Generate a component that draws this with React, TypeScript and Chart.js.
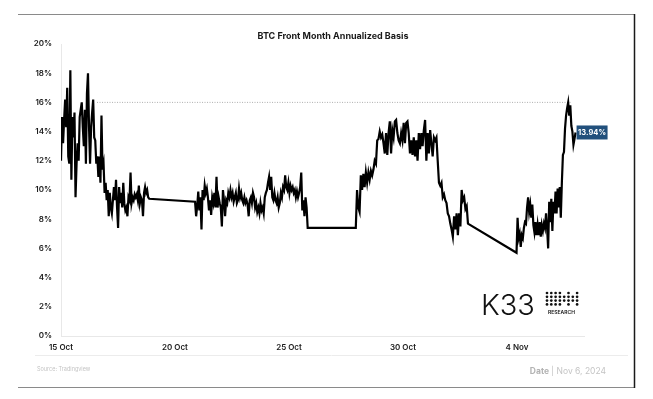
import React, { useEffect, useRef } from 'react';
import { Chart, registerables } from 'chart.js';

Chart.register(...registerables);

// Days since 15 Oct 2024 00:00 for each trading session (weekends are gaps joined by straight lines)
const sessionStart = [0, 5.88, 12.93, 19.98];
const sessionEnd = [3.87, 10.82, 17.85, 22.57];

// Annualized basis (%), per session
const session1 = [
  12.0, 15.0, 13.2, 14.8, 16.2, 14.3, 17.0, 12.3, 11.8, 18.2, 10.7, 15.0, 13.6, 15.3, 9.5, 11.8, 13.2, 12.0,
  15.0, 15.5, 16.0, 14.3, 13.0, 15.5, 11.8, 16.6, 18.0, 14.3, 11.8, 14.3, 15.3, 16.2, 13.6, 13.4, 11.8,
  12.3, 10.9, 12.3, 10.5, 15.1, 11.4, 11.8, 9.8, 10.5, 9.3, 10.0, 8.2, 9.8, 8.8, 8.4, 9.3, 10.2, 9.3,
  10.7, 8.8, 7.4, 10.2, 9.1, 9.8, 8.8, 10.5, 9.1, 8.6, 8.8, 8.2, 9.5, 9.3, 11.2, 9.1, 9.5, 9.3, 9.7,
  9.5, 9.7, 9.3, 10.3, 9.1, 9.5, 9.3, 8.2, 9.8, 10.2, 9.8, 10.0, 9.5, 9.4,
];
const session2 = [
  9.2, 8.2, 8.9, 9.9, 8.6, 9.5, 7.3, 10.0, 9.3, 10.3, 9.8, 10.1, 9.5, 8.6, 9.3, 8.3, 9.5, 9.1, 9.8,
  8.8, 10.9, 8.8, 9.5, 9.1, 8.8, 7.5, 10.0, 9.3, 8.2, 9.3, 9.1, 9.8, 9.5, 10.0, 9.5, 9.8, 9.2, 9.5,
  9.8, 9.1, 9.3, 10.1, 9.5, 9.8, 9.3, 9.1, 9.5, 9.1, 9.3, 9.0, 8.2, 9.3, 9.5, 9.1, 9.8, 9.5, 8.8,
  9.1, 8.5, 8.8, 8.4, 9.1, 8.6, 8.8, 8.4, 9.5, 9.8, 10.0, 10.5, 10.9, 10.0, 10.9, 9.5, 9.3, 9.8, 9.3,
  9.1, 9.5, 8.8, 9.1, 9.8, 9.5, 10.2, 10.0, 11.0, 10.2, 10.0, 10.5, 9.8, 10.3, 10.0, 10.2, 9.8, 10.0,
  9.5, 9.9, 9.5, 9.8, 10.2, 11.2, 8.6, 9.3, 8.2, 9.5, 8.8, 7.4,
];
const session3 = [
  7.4, 10.0, 8.8, 8.5, 11.0, 10.0, 11.1, 10.2, 11.2, 10.5, 11.2, 10.7, 11.3, 11.0, 11.4, 12.0, 11.8,
  13.4, 13.5, 14.0, 13.6, 13.8, 13.2, 12.5, 13.9, 12.4, 13.9, 14.7, 12.5, 14.1, 13.6, 14.7, 14.8, 13.9,
  13.4, 13.2, 13.9, 13.4, 14.6, 13.2, 14.6, 14.7, 13.9, 12.5, 13.4, 12.4, 13.6, 12.3, 13.4, 12.0, 13.9,
  12.8, 13.9, 13.0, 14.1, 14.8, 12.0, 13.9, 12.5, 14.1, 13.2, 12.3, 13.6, 13.4, 13.6, 12.0, 10.5, 10.3,
  10.5, 9.5, 9.7, 9.3, 9.1, 8.4, 8.2, 7.7, 7.3, 6.8, 8.2, 7.3, 8.4, 6.9, 8.4, 7.5, 10.0, 9.3, 9.5, 8.7,
  8.9, 7.7,
];
const session4 = [
  5.7, 8.1, 6.7, 7.0, 6.1, 6.9, 6.7, 7.4, 7.8, 7.7, 8.8, 9.5, 8.5, 9.0, 8.1, 9.0, 7.6, 7.1, 7.8, 6.9,
  7.6, 6.9, 7.8, 6.8, 7.6, 7.2, 7.7, 7.4, 8.4, 7.4, 6.0, 9.2, 7.8, 9.4, 7.2, 9.2, 8.4, 9.9, 8.4, 10.1,
  8.8, 10.2, 8.1, 10.5, 12.4, 12.6, 14.2, 15.1, 15.6, 16.0, 15.1, 15.8, 14.4, 14.0, 13.1, 13.5, 13.94,
];
const sessions = [session1, session2, session3, session4];

const xTickDays = [0, 5, 10, 15, 20];
const xTickLabels = ['15 Oct', '20 Oct', '25 Oct', '30 Oct', '4 Nov'];
const xMax = 22.94;
const yMax = 20;
const yStep = 2;

// dotted reference level (previous high)
const refLevel = 16;
const refFrom = 1.58;
const refTo = 22.35;

const titleText = 'BTC Front Month Annualized Basis';
const lastLabel = '13.94%';
const sourceText = 'Source: Tradingview';
const dateBold = 'Date';
const dateText = ' | Nov 6, 2024';

const FONT = 'Inter, "Noto Sans", "DejaVu Sans", sans-serif';

function buildPoints() {
  const pts: { x: number; y: number }[] = [];
  sessions.forEach((vals, s) => {
    const a = sessionStart[s];
    const b = sessionEnd[s];
    const n = vals.length;
    vals.forEach((v, i) => {
      pts.push({ x: a + ((b - a) * i) / (n - 1), y: v });
    });
  });
  return pts;
}

const overlayPlugin = {
  id: 'overlay',
  afterDraw(chart: any) {
    const ctx: CanvasRenderingContext2D = chart.ctx;
    ctx.save();
    // frame
    ctx.lineWidth = 1;
    ctx.strokeStyle = '#8a8a8a';
    ctx.beginPath();
    ctx.moveTo(18, 14.5);
    ctx.lineTo(634, 14.5);
    ctx.stroke();
    ctx.beginPath();
    ctx.moveTo(18, 387.5);
    ctx.lineTo(634, 387.5);
    ctx.stroke();
    ctx.strokeStyle = '#1a1a1a';
    ctx.lineWidth = 1.5;
    ctx.beginPath();
    ctx.moveTo(634.5, 14);
    ctx.lineTo(634.5, 388);
    ctx.stroke();

    // separator under x labels
    ctx.strokeStyle = '#ececec';
    ctx.lineWidth = 1;
    ctx.beginPath();
    ctx.moveTo(35, 355.5);
    ctx.lineTo(628, 355.5);
    ctx.stroke();

    // title
    ctx.fillStyle = '#1a1a1a';
    ctx.font = `bold 9px ${FONT}`;
    ctx.textAlign = 'center';
    ctx.textBaseline = 'middle';
    ctx.fillText(titleText, 333, 36);

    // footer
    ctx.textAlign = 'left';
    ctx.fillStyle = '#c4c4c4';
    ctx.font = `5.5px ${FONT}`;
    ctx.fillText(sourceText, 37, 369);
    ctx.font = `bold 8.5px ${FONT}`;
    const wB = ctx.measureText(dateBold).width;
    ctx.font = `8.5px ${FONT}`;
    const wT = ctx.measureText(dateText).width;
    const xStart = 606 - wB - wT;
    ctx.font = `bold 8.5px ${FONT}`;
    ctx.fillStyle = '#b3b3b3';
    ctx.fillText(dateBold, xStart, 371);
    ctx.font = `8.5px ${FONT}`;
    ctx.fillStyle = '#c4c4c4';
    ctx.fillText(dateText, xStart + wB, 371);

    // last value label
    const meta = chart.getDatasetMeta(0);
    const last = meta.data[meta.data.length - 1];
    if (last) {
      const bx = last.x + 1;
      const by = last.y - 7;
      ctx.fillStyle = '#22507c';
      ctx.fillRect(bx, by, 31, 14);
      ctx.fillStyle = '#ffffff';
      ctx.font = `bold 7.5px ${FONT}`;
      ctx.textAlign = 'center';
      ctx.fillText(lastLabel, bx + 15.5, by + 7.5);
    }

    // logo
    ctx.fillStyle = '#111';
    ctx.textAlign = 'left';
    ctx.textBaseline = 'alphabetic';
    ctx.font = `300 29px ${FONT}`;
    ctx.fillText('K33', 481, 315);
    const gx = 547;
    const gy = 293;
    for (let c = 0; c < 8; c++) {
      for (let r = 0; r < 4; r++) {
        let draw = c < 3;
        if (c >= 3) {
          if (r === 1 || r === 2) draw = true;
          if (r === 0 && c % 2 === 1) draw = true;
          if (r === 3 && c % 2 === 1) draw = true;
        }
        if (draw) {
          ctx.beginPath();
          ctx.arc(gx + c * 4.3, gy + r * 3.8, 1.35, 0, Math.PI * 2);
          ctx.fill();
        }
      }
    }
    ctx.font = `600 5px ${FONT}`;
    ctx.fillStyle = '#111';
    ctx.fillText('RESEARCH', 548, 314);
    ctx.restore();
  },
};

export default function App() {
  const ref = useRef<HTMLCanvasElement>(null);
  useEffect(() => {
    if (!ref.current) return;
    const tickFont = { family: FONT, size: 8, weight: 600 as any };
    const chart = new Chart(ref.current, {
      type: 'line',
      data: {
        datasets: [
          {
            data: buildPoints(),
            borderColor: '#000000',
            borderWidth: 2.2,
            pointRadius: 0,
            tension: 0,
            fill: false,
          },
          {
            data: [
              { x: refFrom, y: refLevel },
              { x: refTo, y: refLevel },
            ],
            borderColor: '#9a9a9a',
            borderWidth: 0.8,
            borderDash: [1, 1.5],
            pointRadius: 0,
            fill: false,
          },
        ],
      },
      options: {
        animation: false,
        responsive: false,
        layout: { padding: { top: 44, right: 69, left: 0, bottom: 0 } },
        plugins: { legend: { display: false }, tooltip: { enabled: false }, title: { display: false } },
        scales: {
          x: {
            type: 'linear',
            min: 0,
            max: xMax,
            grid: { display: false, drawTicks: false },
            border: { display: true, color: '#e8e8e8' },
            afterBuildTicks: (scale: any) => {
              scale.ticks = xTickDays.map((v) => ({ value: v }));
            },
            afterFit: (scale: any) => {
              scale.height = 63;
            },
            ticks: {
              autoSkip: false,
              maxRotation: 0,
              padding: 7,
              color: '#1a1a1a',
              font: tickFont,
              callback: (v: any) => {
                const i = xTickDays.indexOf(Number(v));
                return i >= 0 ? xTickLabels[i] : '';
              },
            },
          },
          y: {
            min: 0,
            max: yMax,
            grid: { display: false, drawTicks: false },
            border: { display: true, color: '#e8e8e8' },
            afterFit: (scale: any) => {
              scale.width = 61;
            },
            ticks: {
              stepSize: yStep,
              padding: 9,
              color: '#1a1a1a',
              font: tickFont,
              callback: (v: any) => `${v}%`,
            },
          },
        },
      },
      plugins: [overlayPlugin],
    });
    return () => chart.destroy();
  }, []);
  return (
    <div style={{ position: 'absolute', left: 0, top: 0, width: 653, height: 399, background: '#fff' }}>
      <canvas ref={ref} width={653} height={399} />
    </div>
  );
}
